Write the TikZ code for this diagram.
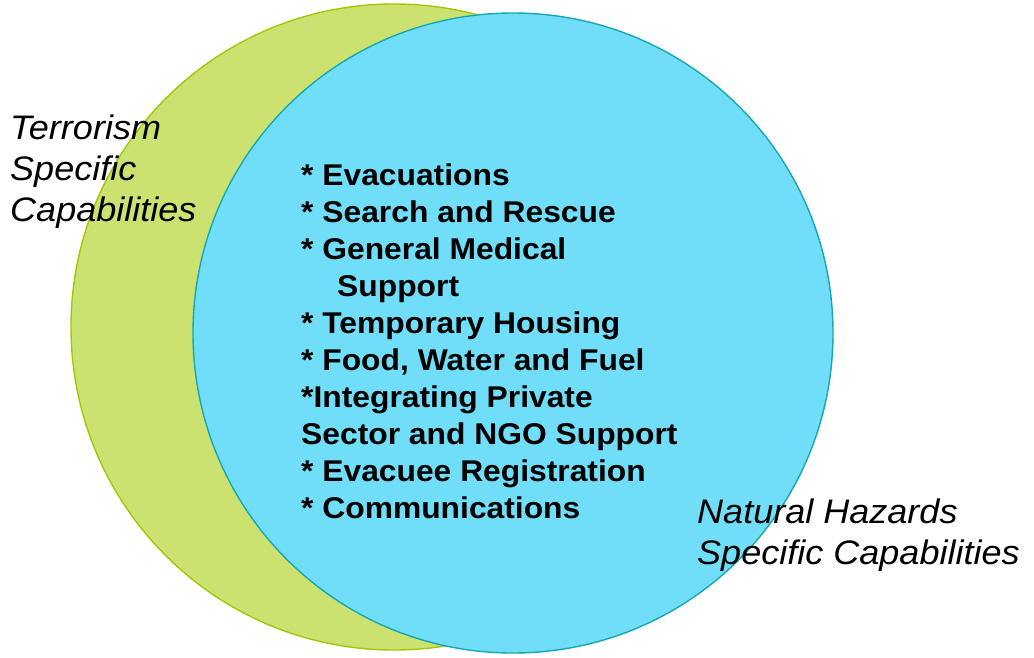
\documentclass[tikz,border=0pt]{standalone}
\usepackage{fontspec}
\newfontfamily\lbl{Liberation Sans}[FakeStretch=1.06]
\definecolor{greenfill}{RGB}{204,226,112}
\definecolor{greenline}{RGB}{160,200,10}
\definecolor{bluefill}{RGB}{112,222,248}
\definecolor{blueline}{RGB}{22,168,176}
\tikzset{
  set/.style={line width=1.4pt},
  sidelabel/.style={inner sep=0pt, anchor=base west, align=left,
    font=\lbl\itshape\fontsize{34}{41}\selectfont},
  listlabel/.style={inner sep=0pt, anchor=base west, align=left,
    font=\lbl\bfseries\fontsize{30}{37}\selectfont}
}
\begin{document}
\begin{tikzpicture}[x=1pt,y=-1pt]
\useasboundingbox (0,0) rectangle (1034,657);
\draw[set, draw=greenline, fill=greenfill] (394,327) circle[radius=323pt];
\draw[set, draw=blueline, fill=bluefill] (513,333) circle[radius=320pt];
% multi-line nodes: base anchor lies on the last line
\node[sidelabel] (terror) at (10,221.5) {Terrorism\\Specific\\Capabilities};
\node[sidelabel] (natural) at (697,564) {Natural Hazards\\Specific Capabilities};
\node[listlabel] (list) at (301,518.5) {* Evacuations\\
* Search and Rescue\\
* General Medical\\
\hspace*{36pt}Support\\
* Temporary Housing\\
* Food, Water and Fuel\\
*Integrating Private\\
Sector and NGO Support\\
* Evacuee Registration\\
* Communications};
\end{tikzpicture}
\end{document}
